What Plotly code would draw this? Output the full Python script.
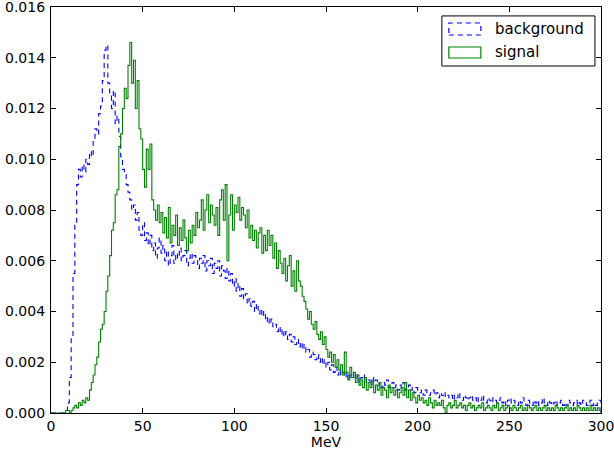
import numpy as np
import plotly.graph_objects as go

# bin edges: 1 MeV bins from 0 to 300
bin_lo = 0
bin_hi = 300

# densities in units of 1e-4 per MeV
background = [
    0, 0, 0, 0, 0, 0, 0, 0, 1, 4,
    14, 30, 55, 75, 90, 96, 93, 98, 95, 100,
    98, 103, 101, 108, 112, 110, 118, 121, 131, 143,
    145, 130, 125, 120, 127, 114, 117, 109, 101, 96,
    94, 90, 87, 84, 80, 82, 76, 79, 72, 70,
    75, 68, 71, 66, 70, 64, 67, 61, 65, 69,
    63, 66, 60, 64, 58, 62, 66, 59, 63, 61,
    65, 60, 62, 64, 58, 61, 63, 59, 62, 60,
    57, 61, 59, 62, 56, 60, 58, 61, 55, 59,
    57, 60, 54, 58, 56, 53, 57, 52, 55, 50,
    53, 48, 51, 46, 49, 45, 47, 43, 45, 42,
    44, 40, 43, 39, 41, 38, 40, 36, 38, 35,
    37, 34, 35, 32, 34, 31, 33, 30, 32, 29,
    31, 28, 30, 27, 29, 26, 28, 25, 27, 24,
    25, 22, 24, 23, 21, 23, 20, 22, 19, 21,
    18, 20, 17, 19, 16, 18, 15, 17, 15, 16,
    14, 16, 13, 15, 14, 16, 13, 15, 12, 14,
    13, 15, 12, 13, 11, 14, 12, 13, 11, 12,
    10, 12, 11, 13, 10, 11, 12, 10, 11, 9,
    11, 10, 12, 9, 10, 11, 9, 10, 8, 10,
    9, 8, 9, 7, 9, 8, 7, 8, 9, 7,
    8, 6, 8, 7, 6, 8, 7, 6, 7, 5,
    7, 6, 8, 6, 5, 7, 6, 5, 6, 7,
    5, 6, 4, 6, 5, 7, 5, 4, 6, 5,
    4, 6, 5, 4, 5, 6, 4, 5, 3, 5,
    6, 4, 5, 4, 3, 5, 4, 6, 4, 3,
    5, 4, 3, 5, 4, 5, 3, 4, 6, 4,
    3, 5, 4, 3, 4, 5, 3, 4, 5, 3,
    4, 3, 5, 4, 3, 4, 5, 3, 4, 3,
    5, 4, 3, 4, 5, 3, 4, 3, 4, 5,
]

signal = [
    0, 0, 0, 0, 0, 0, 0, 0, 1, 1,
    0, 1, 2, 3, 2, 4, 3, 5, 4, 6,
    5, 9, 12, 15, 19, 22, 28, 33, 35, 40,
    48, 54, 62, 72, 75, 86, 88, 105, 110, 120,
    128, 124, 137, 146, 130, 139, 120, 131, 112, 108,
    96, 89, 104, 96, 106, 84, 80, 76, 82, 75,
    79, 71, 77, 69, 81, 67, 74, 70, 78, 66,
    73, 68, 76, 69, 64, 72, 67, 74, 70, 79,
    73, 76, 84, 72, 80, 86, 75, 82, 78, 74,
    81, 70, 84, 88, 76, 90, 60, 78, 86, 72,
    82, 79, 85, 76, 81, 78, 73, 80, 69, 74,
    68, 72, 65, 71, 73, 63, 70, 64, 72, 66,
    70, 61, 67, 57, 64, 59, 55, 61, 52, 58,
    62, 50, 56, 48, 60, 52, 50, 46, 44, 41,
    37, 40, 35, 33, 36, 31, 29, 32, 27, 30,
    25, 22, 24, 20, 23, 18, 21, 17, 19, 15,
    24, 16, 13, 18, 14, 16, 12, 15, 11, 13,
    10, 14, 9, 12, 10, 13, 8, 11, 9, 12,
    7, 10, 9, 6, 11, 8, 10, 7, 9, 6,
    8, 10, 7, 12, 6, 9, 5, 8, 6, 4,
    7, 5, 6, 4, 5, 3, 6, 4, 2, 5,
    3, 4, 3, 5, 2, 0, 3, 4, 2, 3,
    5, 2, 3, 4, 2, 3, 1, 3, 4, 2,
    3, 1, 2, 3, 2, 4, 1, 2, 3, 2,
    1, 3, 2, 4, 1, 2, 3, 1, 2, 3,
    2, 1, 3, 2, 1, 2, 3, 1, 2, 1,
    3, 2, 1, 2, 3, 1, 2, 1, 2, 3,
    1, 2, 1, 2, 1, 3, 2, 1, 2, 1,
    2, 3, 1, 2, 1, 2, 1, 3, 2, 1,
    2, 1, 2, 1, 3, 1, 2, 1, 2, 1,
]

unit = 1e-4
x_ticks = [0, 50, 100, 150, 200, 250, 300]
y_ticks = [0.000, 0.002, 0.004, 0.006, 0.008, 0.010, 0.012, 0.014, 0.016]
labels = ["background", "signal"]
colors = ["#0000ff", "#008000"]

edges = np.arange(bin_lo, bin_hi + 1)


def step_xy(vals):
    v = np.array(vals, dtype=float) * unit
    x = np.concatenate([[edges[0]], edges, [edges[-1]]])
    y = np.concatenate([[0.0], v, [v[-1]], [0.0]])
    return x, y


fig = go.Figure()
xb, yb = step_xy(background)
xs, ys = step_xy(signal)
fig.add_trace(go.Scatter(x=xb, y=yb, mode="lines", line_shape="hv",
                         line=dict(color=colors[0], width=1.1, dash="5px,4px"),
                         name=labels[0], showlegend=False))
fig.add_trace(go.Scatter(x=xs, y=ys, mode="lines", line_shape="hv",
                         line=dict(color=colors[1], width=1.1),
                         name=labels[1], showlegend=False))

font = dict(family="DejaVu Sans", size=14, color="black")

axis_common = dict(showline=True, linecolor="black", linewidth=1.2, mirror="ticks",
                   ticks="inside", ticklen=5, tickwidth=1, tickcolor="black",
                   showgrid=False, zeroline=False, tickfont=font, automargin=False,
                   ticklabeloverflow="allow")

fig.update_xaxes(range=[-1e-6, 300 + 1e-6], tickvals=x_ticks, **axis_common,
                 title=dict(text="MeV", font=font, standoff=2))
fig.update_yaxes(range=[-1e-10, 0.016 + 1e-10], tickvals=y_ticks, tickformat=".3f",
                 ticklabelstandoff=2, **axis_common)

# custom legend drawn like matplotlib patches
shapes = [
    dict(type="rect", xref="paper", yref="paper", x0=0.7107, x1=0.989, y0=0.8547, y1=0.978,
         line=dict(color="black", width=1), fillcolor="white", layer="above"),
    dict(type="rect", xref="paper", yref="paper", x0=0.7234, x1=0.7816, y0=0.931, y1=0.9606,
         line=dict(color=colors[0], width=1.2, dash="5px,4px"), layer="above"),
    dict(type="rect", xref="paper", yref="paper", x0=0.7234, x1=0.7816, y0=0.8744, y1=0.9015,
         line=dict(color=colors[1], width=1.2), layer="above"),
]
annotations = [
    dict(text=labels[0], xref="paper", yref="paper", x=0.8035, y=0.9458, xanchor="left",
         yanchor="middle", showarrow=False, font=dict(family="DejaVu Sans", size=15, color="black")),
    dict(text=labels[1], xref="paper", yref="paper", x=0.8035, y=0.889, xanchor="left",
         yanchor="middle", showarrow=False, font=dict(family="DejaVu Sans", size=15, color="black")),
]

fig.update_layout(width=614, height=457, margin=dict(l=51, r=13, t=7, b=44, autoexpand=False),
                  paper_bgcolor="white", plot_bgcolor="white", font=font,
                  shapes=shapes, annotations=annotations, showlegend=False)

fig.write_html("out.html", config={"displayModeBar": False},
               post_script="document.body.style.margin='0';document.body.style.padding='0';")
